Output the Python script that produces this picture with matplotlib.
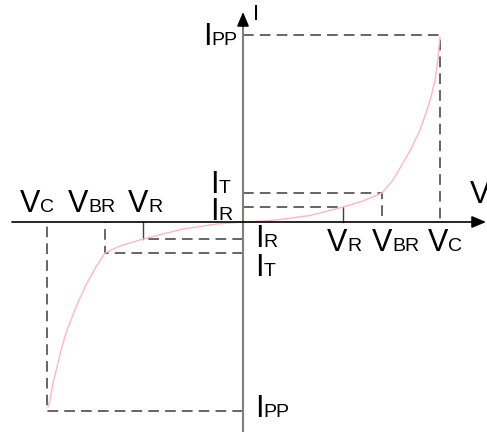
import matplotlib
matplotlib.use("Agg")
import matplotlib.pyplot as plt

plt.rcParams['font.family'] = ['Liberation Sans', 'DejaVu Sans']

# levels (V in px-like units, I in px-like units)
pos_v = [100, 139, 197]      # VR, VBR, VC
pos_i = [15, 29, 187]        # IR, IT, IPP
neg_v = [-100, -138, -196]   # VR, VBR, VC
neg_i = [-17, -31, -189]     # IR, IT, IPP

# I-V curve, forward and reverse halves
curve_pos_v = [0, 10, 33, 67, 100, 120, 139, 150, 160, 169, 177, 183, 188, 192, 194.5, 196, 197]
curve_pos_i = [0, 0.3, 2, 6.5, 15, 21, 29, 42, 59, 75, 92, 109, 125, 142, 159, 175, 185]
curve_neg_v = [0, -26, -60, -100, -123, -138, -147, -156, -164, -171, -177, -182, -186, -190, -193, -195]
curve_neg_i = [0, -2, -7, -17, -24, -31, -45, -61, -78, -95, -111, -128, -145, -161, -178, -185]

fig = plt.figure(figsize=(4.87, 4.32), dpi=100)
ax = fig.add_axes([0, 0, 1, 1])
ax.set_xlim(-243, 244)
ax.set_ylim(-210, 222)
ax.axis('off')

dash = dict(color='#3c3c3c', lw=1.1, linestyle=(0, (7, 4)))
solid = dict(color='#404040', lw=1.0)

# forward side guides
vr, vbr, vc = pos_v
ir, it, ipp = pos_i
ax.plot([0, vc, vc], [ipp, ipp, 0], **dash)
ax.plot([0, vbr, vbr], [it, it, 0], **dash)
ax.plot([0, vr], [ir, ir], **dash)
ax.plot([vr, vr], [ir, 0], **solid)

# reverse side guides
vr, vbr, vc = neg_v
ir, it, ipp = neg_i
ax.plot([0, vc, vc], [ipp, ipp, 0], **dash)
ax.plot([0, vbr, vbr], [it, it, 0], **dash)
ax.plot([0, vr], [ir, ir], **dash)
ax.plot([vr, vr], [ir, 0], **solid)

# curve
ax.plot(curve_pos_v, curve_pos_i, color='#ffb8b8', lw=1.0, solid_joinstyle='round')
ax.plot(curve_neg_v, curve_neg_i, color='#ffb8b8', lw=1.0, solid_joinstyle='round')

# axes with arrows
head = '-|>,head_length=0.85,head_width=0.36'
ax.annotate('', xy=(243, 0), xytext=(-231, 0),
            arrowprops=dict(arrowstyle=head, color='black', lw=1.2,
                            shrinkA=0, shrinkB=0, mutation_scale=10))
ax.plot([0, 0], [-210, 200], color='#808080', lw=1.5)
ax.annotate('', xy=(0, 210), xytext=(0, 196),
            arrowprops=dict(arrowstyle=head, color='black', lw=1.2,
                            shrinkA=0, shrinkB=0, mutation_scale=10))


def label(x, y, main, sub='', size=22):
    t = ax.text(x, y, main, fontsize=size, va='baseline', ha='left')
    if sub:
        ax.annotate(sub, xy=(1, y), xycoords=(t, 'data'), fontsize=14,
                    va='baseline', ha='left')


label(227, 19, 'V')
label(10, 202, 'I', size=16)

label(-223, 10, 'V', 'C')
label(-175, 10, 'V', 'BR')
label(-115, 10, 'V', 'R')

label(84, -29, 'V', 'R')
label(129, -29, 'V', 'BR')
label(185, -29, 'V', 'C')

label(-40, 177, 'I', 'PP')
label(-33, 29, 'I', 'T')
label(-33, 2, 'I', 'R')

label(12, -25, 'I', 'R')
label(12, -54, 'I', 'T')
label(12, -195, 'I', 'PP')

fig.savefig('out.png', dpi=100)
